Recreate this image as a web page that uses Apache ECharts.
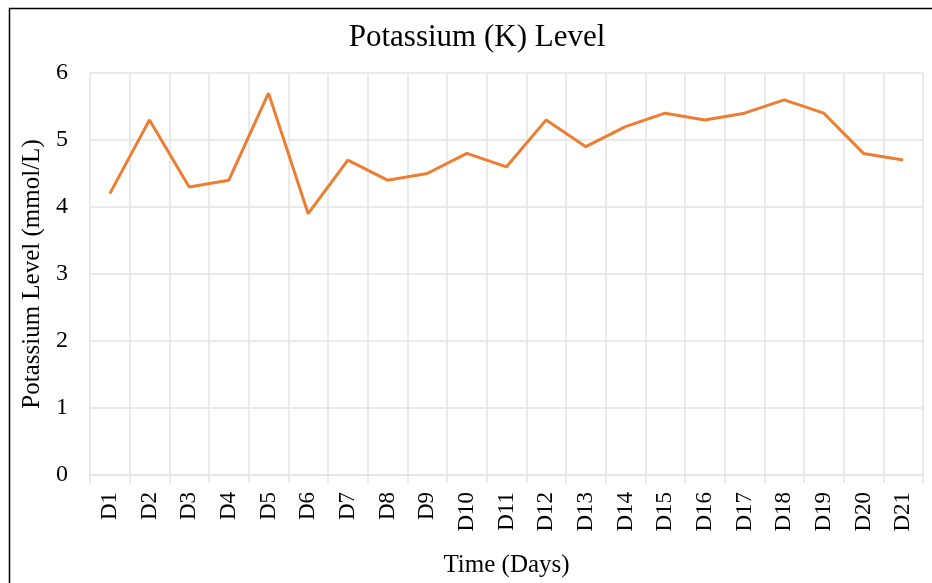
<!DOCTYPE html>
<html>
<head>
<meta charset="utf-8">
<script src="https://cdn.jsdelivr.net/npm/echarts@6/dist/echarts.min.js"></script>
<style>
html, body { margin: 0; padding: 0; background: #fff; }
#chart { width: 932px; height: 583px; }
</style>
</head>
<body>
<div id="chart"></div>
<script>
var days = ['D1','D2','D3','D4','D5','D6','D7','D8','D9','D10','D11','D12','D13','D14','D15','D16','D17','D18','D19','D20','D21'];
var potassium = [4.2, 5.3, 4.3, 4.4, 5.7, 3.9, 4.7, 4.4, 4.5, 4.8, 4.6, 5.3, 4.9, 5.2, 5.4, 5.3, 5.4, 5.6, 5.4, 4.8, 4.7];
var yTicks = [0, 1, 2, 3, 4, 5, 6];

var serif = '"Liberation Serif", "Times New Roman", serif';
var gridColor = '#e3e3e3';

var chart = echarts.init(document.getElementById('chart'));
chart.setOption({
	backgroundColor: '#ffffff',
	animation: false,
	textStyle: { fontFamily: serif },
	title: {
		text: 'Potassium (K) Level',
		left: 472, top: 17,
		textAlign: 'center',
		textStyle: { fontFamily: serif, fontSize: 31, fontWeight: 'normal', color: '#000' }
	},
	graphic: [{
		type: 'rect',
		shape: { x: 9.5, y: 8.5, width: 940, height: 600 },
		style: { fill: 'none', stroke: '#000', lineWidth: 1.5 },
		silent: true
	}],
	grid: { left: 90, right: 9, top: 73, bottom: 103, containLabel: false },
	xAxis: {
		type: 'category',
		data: days,
		boundaryGap: true,
		name: 'Time (Days)',
		nameLocation: 'middle',
		nameGap: 78,
		nameTextStyle: { fontFamily: serif, fontSize: 25, color: '#000' },
		axisLine: { show: true, lineStyle: { color: gridColor, width: 1.5 } },
		axisTick: { show: true, length: 8, lineStyle: { color: gridColor, width: 1.5 } },
		axisLabel: { rotate: 90, margin: 17, fontFamily: serif, fontSize: 23, color: '#000', interval: 0 },
		splitLine: { show: true, lineStyle: { color: gridColor, width: 1.5 } }
	},
	yAxis: {
		type: 'value',
		min: yTicks[0], max: yTicks[yTicks.length - 1], interval: 1,
		name: 'Potassium Level (mmol/L)',
		nameLocation: 'middle',
		nameGap: 44,
		nameTextStyle: { fontFamily: serif, fontSize: 25, color: '#000' },
		axisLine: { show: false },
		axisTick: { show: false },
		axisLabel: { margin: 22, fontFamily: serif, fontSize: 24, color: '#000' },
		splitLine: { show: true, lineStyle: { color: gridColor, width: 1.5 } }
	},
	series: [{
		type: 'line',
		data: potassium,
		symbol: 'none',
		lineStyle: { color: '#ED7D31', width: 3 },
		itemStyle: { color: '#ED7D31' }
	}]
});
</script>
</body>
</html>
